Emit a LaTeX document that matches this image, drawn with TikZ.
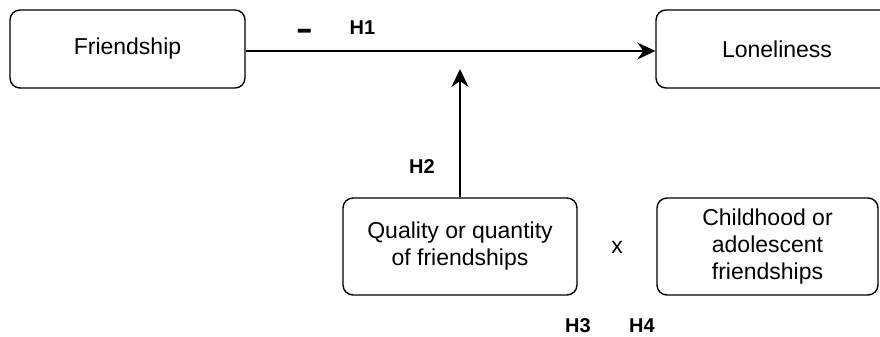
\documentclass[tikz,border=0pt]{standalone}
\usepackage{fontspec}
\usepackage{graphicx}
\setmainfont{Liberation Sans}
\usetikzlibrary{arrows.meta}
\begin{document}
\begin{tikzpicture}[x=1pt,y=-1pt,
  box/.style={draw, line width=1.4pt, rounded corners=10pt, inner sep=0pt,
    align=center, font=\fontsize{23}{27}\selectfont},
  hlabel/.style={inner sep=0pt, anchor=base, font=\fontsize{20}{24}\selectfont\bfseries},
  conn/.style={line width=1.4pt, -{Stealth[length=18pt,width=17pt,inset=6pt]}}]
\useasboundingbox (0,0) rectangle (880,337);
\clip (0,0) rectangle (880,337);
\node[box, minimum width=235pt, minimum height=78pt] (fr) at (127.5,49) {Friendship};
\node[box, minimum width=242pt, minimum height=78pt] (lo) at (777,49) {Loneliness};
\node[box, minimum width=234pt, minimum height=97pt] (qu) at (460,246.5) {Quality or quantity\\of friendships};
\node[box, minimum width=221pt, minimum height=97pt] (ch) at (767.5,246.5) {Childhood or\\adolescent\\friendships};
\coordinate (tip) at (460,69);
\draw[conn] ([yshift=-2pt]fr.east) -- ([yshift=-2pt]lo.west);
\draw[conn] (qu.north) -- (tip);
\node[inner sep=0pt, anchor=base, font=\fontsize{32}{40}\selectfont\bfseries] (minus) at (304.5,39.5) {\scalebox{1.6}[1]{-}};
\node[hlabel] (h1) at (362.5,35) {H1};
\node[hlabel] (h2) at (422,173) {H2};
\node[hlabel] (h3) at (578,332) {H3};
\node[hlabel] (h4) at (642,332) {H4};
\node[inner sep=0pt, font=\fontsize{23}{27}\selectfont] (x) at (617,247) {x};
\end{tikzpicture}
\end{document}
